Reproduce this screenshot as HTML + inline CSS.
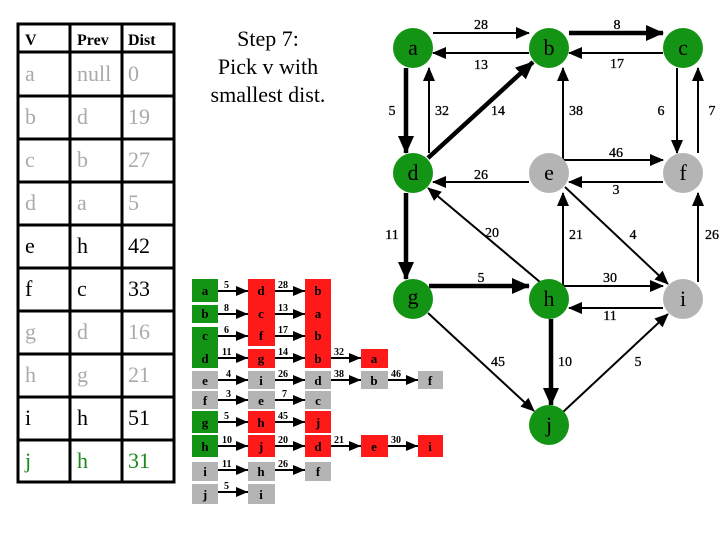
<!DOCTYPE html>
<html><head><meta charset="utf-8"><style>
html,body{margin:0;padding:0;background:#fff;}
svg{display:block;font-family:"Liberation Serif",serif;}
</style></head><body>
<svg width="720" height="540" viewBox="0 0 720 540" xmlns="http://www.w3.org/2000/svg">
<defs>
<marker id="t" markerUnits="userSpaceOnUse" markerWidth="14" markerHeight="12" refX="13" refY="6" orient="auto"><path d="M0,0 L14,6 L0,12 Z" fill="#000"/></marker>
<marker id="T" markerUnits="userSpaceOnUse" markerWidth="18" markerHeight="16" refX="17" refY="8" orient="auto"><path d="M0,0 L18,8 L0,16 Z" fill="#000"/></marker>
<marker id="s" markerUnits="userSpaceOnUse" markerWidth="12" markerHeight="10" refX="12" refY="5" orient="auto"><path d="M0,0 L12,5 L0,10 Z" fill="#000"/></marker>
</defs>

<g stroke="#000" stroke-width="3" fill="none">
<rect x="18" y="24" width="156" height="458"/>
<line x1="70" y1="24" x2="70" y2="482"/><line x1="122" y1="24" x2="122" y2="482"/>
<line x1="18" y1="52" x2="174" y2="52"/>
<line x1="18" y1="96" x2="174" y2="96"/><line x1="18" y1="139" x2="174" y2="139"/>
<line x1="18" y1="182" x2="174" y2="182"/><line x1="18" y1="225" x2="174" y2="225"/>
<line x1="18" y1="268" x2="174" y2="268"/><line x1="18" y1="311" x2="174" y2="311"/>
<line x1="18" y1="354" x2="174" y2="354"/><line x1="18" y1="397" x2="174" y2="397"/>
<line x1="18" y1="440" x2="174" y2="440"/>
</g>
<g font-weight="bold" font-size="16">
<text x="25" y="45">V</text><text x="77" y="45">Prev</text><text x="128" y="45">Dist</text>
</g>
<g font-size="22">
<g fill="#aaa"><text x="25" y="81">a</text><text x="77" y="81">null</text><text x="128" y="81">0</text>
<text x="25" y="124">b</text><text x="77" y="124">d</text><text x="128" y="124">19</text>
<text x="25" y="167">c</text><text x="77" y="167">b</text><text x="128" y="167">27</text>
<text x="25" y="210">d</text><text x="77" y="210">a</text><text x="128" y="210">5</text></g>
<text x="25" y="253">e</text><text x="77" y="253">h</text><text x="128" y="253">42</text>
<text x="25" y="296">f</text><text x="77" y="296">c</text><text x="128" y="296">33</text>
<g fill="#aaa"><text x="25" y="339">g</text><text x="77" y="339">d</text><text x="128" y="339">16</text>
<text x="25" y="382">h</text><text x="77" y="382">g</text><text x="128" y="382">21</text></g>
<text x="25" y="425">i</text><text x="77" y="425">h</text><text x="128" y="425">51</text>
<g fill="#1a8a1a"><text x="25" y="468">j</text><text x="77" y="468">h</text><text x="128" y="468">31</text></g>
</g>

<g font-size="22" text-anchor="middle">
<text x="268" y="46">Step 7:</text><text x="268" y="74">Pick v with</text><text x="268" y="102">smallest dist.</text>
</g>

<g fill="#149414">
<rect x="192" y="279" width="26" height="23"/><rect x="192" y="305" width="26" height="18"/><rect x="192" y="327" width="26" height="41"/>
<rect x="192" y="411" width="26" height="22"/><rect x="192" y="435" width="26" height="22"/>
</g>
<g fill="#b4b4b4">
<rect x="192" y="371" width="26" height="18"/><rect x="192" y="391" width="26" height="18"/>
<rect x="192" y="462" width="26" height="19"/><rect x="192" y="484" width="26" height="20"/>
<rect x="248" y="371" width="27" height="18"/><rect x="248" y="391" width="27" height="18"/>
<rect x="248" y="462" width="27" height="19"/><rect x="248" y="484" width="27" height="20"/>
<rect x="305" y="371" width="26" height="18"/><rect x="305" y="391" width="26" height="18"/>
<rect x="305" y="462" width="26" height="19"/>
<rect x="361" y="371" width="27" height="18"/><rect x="418" y="371" width="25" height="18"/>
</g>
<g fill="#ff1a1a">
<rect x="248" y="279" width="27" height="67"/><rect x="248" y="349" width="27" height="19"/>
<rect x="305" y="279" width="26" height="89"/><rect x="361" y="349" width="27" height="19"/>
<rect x="248" y="411" width="27" height="22"/><rect x="305" y="411" width="26" height="22"/>
<rect x="248" y="435" width="27" height="22"/><rect x="305" y="435" width="26" height="22"/>
<rect x="361" y="435" width="27" height="22"/><rect x="418" y="435" width="25" height="22"/>
</g>
<g font-size="13" font-weight="bold" text-anchor="middle">
<text x="205" y="295">a</text><text x="205" y="318">b</text><text x="205" y="340">c</text><text x="205" y="363">d</text>
<text x="205" y="385">e</text><text x="205" y="405">f</text><text x="205" y="427">g</text><text x="205" y="451">h</text>
<text x="205" y="476">i</text><text x="205" y="499">j</text>
<text x="261" y="295">d</text><text x="261" y="318">c</text><text x="261" y="340">f</text><text x="261" y="363">g</text>
<text x="261" y="385">i</text><text x="261" y="405">e</text><text x="261" y="427">h</text><text x="261" y="451">j</text>
<text x="261" y="476">h</text><text x="261" y="499">i</text>
<text x="318" y="295">b</text><text x="318" y="318">a</text><text x="318" y="340">b</text><text x="318" y="363">b</text>
<text x="318" y="385">d</text><text x="318" y="405">c</text><text x="318" y="427">j</text><text x="318" y="451">d</text>
<text x="318" y="476">f</text>
<text x="374" y="363">a</text><text x="374" y="385">b</text><text x="374" y="451">e</text>
<text x="430" y="385">f</text><text x="430" y="451">i</text>
</g>
<g stroke="#000" stroke-width="2" marker-end="url(#s)">
<line x1="218" y1="291" x2="248" y2="291"/><line x1="218" y1="314" x2="248" y2="314"/>
<line x1="218" y1="336" x2="248" y2="336"/><line x1="218" y1="358" x2="248" y2="358"/>
<line x1="218" y1="380" x2="248" y2="380"/><line x1="218" y1="400" x2="248" y2="400"/>
<line x1="218" y1="422" x2="248" y2="422"/><line x1="218" y1="446" x2="248" y2="446"/>
<line x1="218" y1="470" x2="248" y2="470"/><line x1="218" y1="492" x2="248" y2="492"/>
<line x1="275" y1="291" x2="305" y2="291"/><line x1="275" y1="314" x2="305" y2="314"/>
<line x1="275" y1="336" x2="305" y2="336"/><line x1="275" y1="358" x2="305" y2="358"/>
<line x1="275" y1="380" x2="305" y2="380"/><line x1="275" y1="400" x2="305" y2="400"/>
<line x1="275" y1="422" x2="305" y2="422"/><line x1="275" y1="446" x2="305" y2="446"/>
<line x1="275" y1="470" x2="305" y2="470"/>
<line x1="331" y1="358" x2="361" y2="358"/><line x1="331" y1="380" x2="361" y2="380"/>
<line x1="331" y1="446" x2="361" y2="446"/>
<line x1="388" y1="380" x2="418" y2="380"/><line x1="388" y1="446" x2="418" y2="446"/>
</g>
<g font-size="10" font-weight="bold">
<text x="224" y="288">5</text><text x="224" y="311">8</text><text x="224" y="333">6</text><text x="222" y="355">11</text>
<text x="226" y="377">4</text><text x="226" y="397">3</text><text x="224" y="419">5</text><text x="222" y="443">10</text>
<text x="222" y="467">11</text><text x="224" y="489">5</text>
<text x="278" y="288">28</text><text x="278" y="311">13</text><text x="278" y="333">17</text><text x="278" y="355">14</text>
<text x="278" y="377">26</text><text x="282" y="397">7</text><text x="278" y="419">45</text><text x="278" y="443">20</text>
<text x="278" y="467">26</text>
<text x="334" y="355">32</text><text x="334" y="377">38</text><text x="334" y="443">21</text>
<text x="391" y="377">46</text><text x="391" y="443">30</text>
</g>

<g stroke="#000" stroke-width="2" fill="none">
<line x1="433" y1="33" x2="529" y2="33" marker-end="url(#t)"/>
<line x1="529" y1="53" x2="433" y2="53" marker-end="url(#t)"/>
<line x1="663" y1="53" x2="569" y2="53" marker-end="url(#t)"/>
<line x1="429" y1="153" x2="429" y2="68" marker-end="url(#t)"/>
<polyline points="662,160 563,160 563,68"/>
<line x1="563" y1="80" x2="563" y2="68" marker-end="url(#t)"/>
<line x1="600" y1="160" x2="663" y2="160" marker-end="url(#t)"/>
<line x1="677" y1="68" x2="677" y2="153" marker-end="url(#t)"/>
<line x1="698" y1="153" x2="698" y2="68" marker-end="url(#t)"/>
<line x1="529" y1="182" x2="433" y2="182" marker-end="url(#t)"/>
<line x1="663" y1="182" x2="569" y2="182" marker-end="url(#t)"/>
<line x1="540" y1="282" x2="428" y2="188" marker-end="url(#t)"/>
<polyline points="662,286 563,286 563,193"/>
<line x1="563" y1="210" x2="563" y2="193" marker-end="url(#t)"/>
<line x1="620" y1="286" x2="663" y2="286" marker-end="url(#t)"/>
<line x1="565" y1="187" x2="668" y2="284" marker-end="url(#t)"/>
<line x1="698" y1="282" x2="698" y2="193" marker-end="url(#t)"/>
<line x1="663" y1="308" x2="569" y2="308" marker-end="url(#t)"/>
<line x1="428" y1="313" x2="534" y2="411" marker-end="url(#t)"/>
<line x1="563" y1="412" x2="668" y2="314" marker-end="url(#t)"/>
</g>
<g stroke="#000" stroke-width="4.5" fill="none" marker-end="url(#T)">
<line x1="569" y1="33" x2="663" y2="33"/>
<line x1="406" y1="68" x2="406" y2="153"/>
<line x1="428" y1="158" x2="533" y2="62"/>
<line x1="406" y1="193" x2="406" y2="279"/>
<line x1="429" y1="286" x2="529" y2="286"/>
<line x1="551" y1="319" x2="551" y2="405"/>
</g>
<g font-size="14" text-anchor="middle" stroke="#000" stroke-width="0.3">
<text x="481" y="29">28</text><text x="481" y="69">13</text><text x="617" y="29">8</text><text x="617" y="68">17</text>
<text x="392" y="115">5</text><text x="442" y="115">32</text><text x="498" y="115">14</text><text x="576" y="115">38</text>
<text x="661" y="115">6</text><text x="712" y="115">7</text>
<text x="616" y="157">46</text><text x="481" y="179">26</text><text x="616" y="194">3</text>
<text x="392" y="239">11</text><text x="492" y="237">20</text><text x="576" y="239">21</text><text x="633" y="239">4</text><text x="712" y="239">26</text>
<text x="481" y="282">5</text><text x="610" y="282">30</text><text x="610" y="320">11</text>
<text x="498" y="366">45</text><text x="565" y="366">10</text><text x="638" y="366">5</text>
</g>

<g fill="#149414">
<circle cx="413" cy="48" r="20"/><circle cx="549" cy="48" r="20"/><circle cx="683" cy="48" r="20"/>
<circle cx="413" cy="173" r="20"/>
<circle cx="413" cy="299" r="20"/><circle cx="549" cy="299" r="20"/><circle cx="549" cy="425" r="20"/>
</g>
<g fill="#b4b4b4">
<circle cx="549" cy="173" r="20"/><circle cx="683" cy="173" r="20"/><circle cx="683" cy="299" r="20"/>
</g>
<g font-size="22" text-anchor="middle">
<text x="413" y="55">a</text><text x="549" y="55">b</text><text x="683" y="55">c</text>
<text x="413" y="180">d</text><text x="549" y="180">e</text><text x="683" y="180">f</text>
<text x="413" y="304">g</text><text x="549" y="306">h</text><text x="683" y="306">i</text><text x="549" y="432">j</text>
</g>
</svg>
</body></html>
